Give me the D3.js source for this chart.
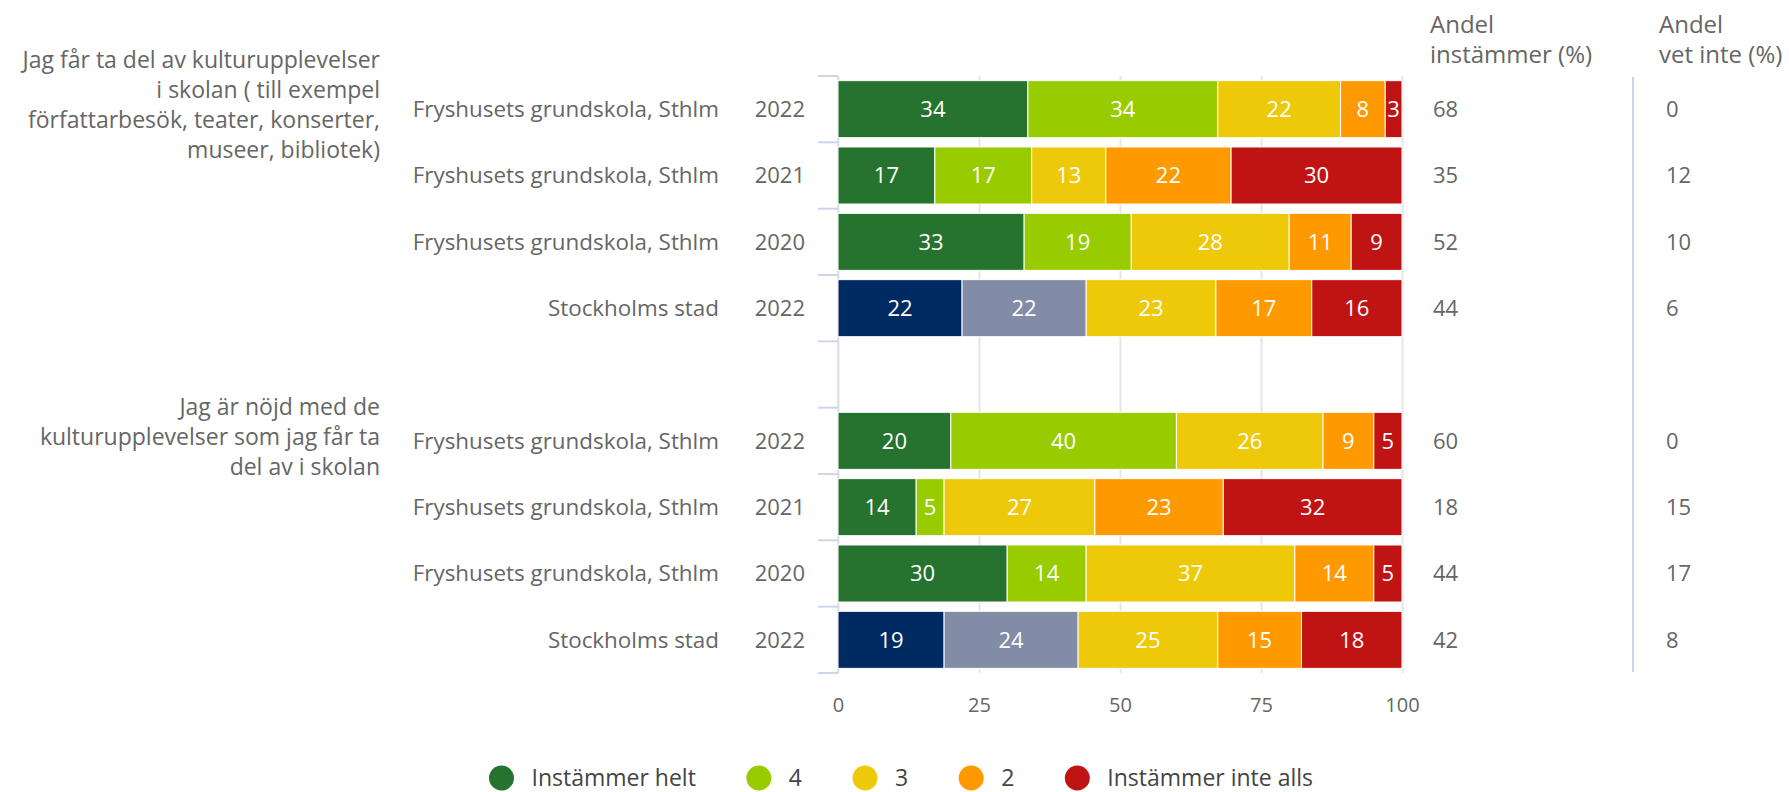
<!DOCTYPE html>
<html lang="sv">
<head>
<meta charset="UTF-8">
<title>Kulturupplevelser i skolan</title>
<script src="https://d3js.org/d3.v7.min.js"></script>
<style>
  body { margin: 0; background: #fff; }
  text { font-family: "Open Sans", sans-serif; fill: #666; }
  .inbar { fill: #fff; font-size: 22px; }
</style>
</head>
<body>
<script>
// data
var groupLabels = [
  ["Jag får ta del av kulturupplevelser", "i skolan ( till exempel", "författarbesök, teater, konserter,", "museer, bibliotek)"],
  ["Jag är nöjd med de", "kulturupplevelser som jag får ta", "del av i skolan "]
];
var units = ["Fryshusets grundskola, Sthlm", "Fryshusets grundskola, Sthlm", "Fryshusets grundskola, Sthlm", "Stockholms stad",
             "Fryshusets grundskola, Sthlm", "Fryshusets grundskola, Sthlm", "Fryshusets grundskola, Sthlm", "Stockholms stad"];
var years = ["2022", "2021", "2020", "2022", "2022", "2021", "2020", "2022"];
var seriesNames = ["Instämmer helt", "4", "3", "2", "Instämmer inte alls"];
var helt     = [34, 17, 33, 22, 20, 14, 30, 19];
var fyra     = [34, 17, 19, 22, 40,  5, 14, 24];
var tre      = [22, 13, 28, 23, 26, 27, 37, 25];
var tva      = [ 8, 22, 11, 17,  9, 23, 14, 15];
var inteAlls = [ 3, 30,  9, 16,  5, 32,  5, 18];
var andelInstammer = [68, 35, 52, 44, 60, 18, 44, 42];
var andelVetInte   = [ 0, 12, 10,  6,  0, 15, 17,  8];
var xTicks = [0, 25, 50, 75, 100];

var colors = ["#26722f", "#99cc00", "#eec909", "#ff9900", "#c01414"];
var stadColors = ["#002b62", "#828ca7"];   // Stockholms stad uses blue tones for the two top steps

var width = 1789, height = 792;

var svg = d3.select("body").append("svg")
    .attr("width", width)
    .attr("height", height);

// 8 rows plus one empty slot between the two questions
var slotOf = function(i) { return i < 4 ? i : i + 1; };
var x = d3.scaleLinear().domain([0, 100]).range([838, 1402]);
var y = d3.scaleBand().domain(d3.range(9))
    .range([76, 673])
    .paddingInner(0.14)
    .paddingOuter(0.07);

// build rows and normalise each one to 100 %
var rows = units.map(function(u, i) {
  var vals = [helt[i], fyra[i], tre[i], tva[i], inteAlls[i]];
  var total = d3.sum(vals);
  var acc = 0;
  var segs = vals.map(function(v, k) {
    var s = { value: v, k: k, x0: acc / total * 100, x1: (acc + v) / total * 100 };
    acc += v;
    return s;
  });
  return { i: i, unit: u, year: years[i], segs: segs };
});

// grid lines
var grid = svg.append("g")
    .attr("transform", "translate(0," + y.range()[1] + ")")
    .call(d3.axisBottom(x).tickValues(xTicks).tickSize(-(y.range()[1] - y.range()[0])).tickFormat(""));
grid.select(".domain").remove();
grid.selectAll("line").attr("stroke", "#e6e6e6").attr("stroke-width", 2);

// category axis line and boundary ticks
svg.append("line")
    .attr("x1", x(0)).attr("x2", x(0))
    .attr("y1", y.range()[0]).attr("y2", y.range()[1])
    .attr("stroke", "#ccd6eb").attr("stroke-width", 1);
svg.append("g").selectAll("line")
    .data(d3.range(10))
    .enter().append("line")
    .attr("x1", x(0) - 20).attr("x2", x(0))
    .attr("y1", function(k) { return y.range()[0] + k * y.step(); })
    .attr("y2", function(k) { return y.range()[0] + k * y.step(); })
    .attr("stroke", "#ccd6eb").attr("stroke-width", 2);

// bars
var rowG = svg.append("g").selectAll("g")
    .data(rows)
    .enter().append("g")
    .attr("transform", function(d) { return "translate(0," + y(slotOf(d.i)) + ")"; });

rowG.selectAll("rect")
    .data(function(d) { return d.segs.map(function(s) { s.unit = d.unit; return s; }); })
    .enter().append("rect")
    .attr("x", function(s) { return x(s.x0); })
    .attr("width", function(s) { return x(s.x1) - x(s.x0); })
    .attr("height", y.bandwidth())
    .attr("fill", function(s) {
      if (s.unit === "Stockholms stad" && s.k < 2) return stadColors[s.k];
      return colors[s.k];
    })
    .attr("stroke", "#fff")
    .attr("stroke-width", 1);

rowG.selectAll("text")
    .data(function(d) { return d.segs; })
    .enter().append("text")
    .attr("class", "inbar")
    .attr("x", function(s) { return (x(s.x0) + x(s.x1)) / 2; })
    .attr("y", y.bandwidth() / 2)
    .attr("dy", "0.35em")
    .attr("text-anchor", "middle")
    .text(function(s) { return s.value; });

// row labels
var lab = svg.append("g").selectAll("g")
    .data(rows)
    .enter().append("g")
    .attr("transform", function(d) { return "translate(0," + (y(slotOf(d.i)) + y.bandwidth() / 2) + ")"; });
lab.append("text")
    .attr("x", 719).attr("dy", "0.35em")
    .attr("text-anchor", "end")
    .style("font-size", "22.4px")
    .text(function(d) { return d.unit; });
lab.append("text")
    .attr("x", 805).attr("dy", "0.35em")
    .attr("text-anchor", "end")
    .style("font-size", "22px")
    .text(function(d) { return d.year; });
lab.append("text")
    .attr("x", 1433).attr("dy", "0.35em")
    .style("font-size", "22px")
    .text(function(d) { return andelInstammer[d.i]; });
lab.append("text")
    .attr("x", 1666).attr("dy", "0.35em")
    .style("font-size", "22px")
    .text(function(d) { return andelVetInte[d.i]; });

// question labels
groupLabels.forEach(function(lines, g) {
  var cy = y(g * 5) + y.bandwidth() / 2 - 4;
  svg.append("g").selectAll("text")
      .data(lines)
      .enter().append("text")
      .attr("x", 380)
      .attr("y", function(t, j) { return cy + (j - (lines.length - 1) / 2) * 30; })
      .attr("dy", "0.35em")
      .attr("text-anchor", "end")
      .style("font-size", "23px")
      .text(function(t) { return t; });
});

// column headers
[["Andel", "instämmer (%)", 1430], ["Andel", "vet inte (%)", 1659]].forEach(function(h) {
  svg.append("text").attr("x", h[2]).attr("y", 25).attr("dy", "0.35em").style("font-size", "24px").text(h[0]);
  svg.append("text").attr("x", h[2]).attr("y", 55).attr("dy", "0.35em").style("font-size", "24px").text(h[1]);
});

svg.append("line")
    .attr("x1", 1633).attr("x2", 1633)
    .attr("y1", 77).attr("y2", 672)
    .attr("stroke", "#ccd6eb").attr("stroke-width", 2);

// x axis labels
var xa = svg.append("g")
    .attr("transform", "translate(0,705)")
    .call(d3.axisBottom(x).tickValues(xTicks).tickSize(0).tickPadding(0));
xa.select(".domain").remove();
xa.selectAll("text")
    .attr("dy", "0.35em")
    .style("font-size", "20px")
    .style("fill", "#666")
    .style("font-family", "'Open Sans', sans-serif");

// legend
var leg = svg.append("g").attr("transform", "translate(0,778)");
var items = leg.selectAll("g")
    .data(seriesNames)
    .enter().append("g");
items.append("circle").attr("r", 12.5).attr("fill", function(d, k) { return colors[k]; });
items.append("text").attr("x", 30).attr("dy", "0.35em").style("font-size", "23px").style("fill", "#444").text(function(d) { return d; });
var pos = 0, offs = [];
items.each(function() {
  offs.push(pos);
  pos += 30 + d3.select(this).select("text").node().getComputedTextLength() + 63;
});
var total = pos - 63 + 12.5;
var start = 901 - total / 2 + 12.5;
items.attr("transform", function(d, k) { return "translate(" + (start + offs[k]) + ",0)"; });
</script>
</body>
</html>
